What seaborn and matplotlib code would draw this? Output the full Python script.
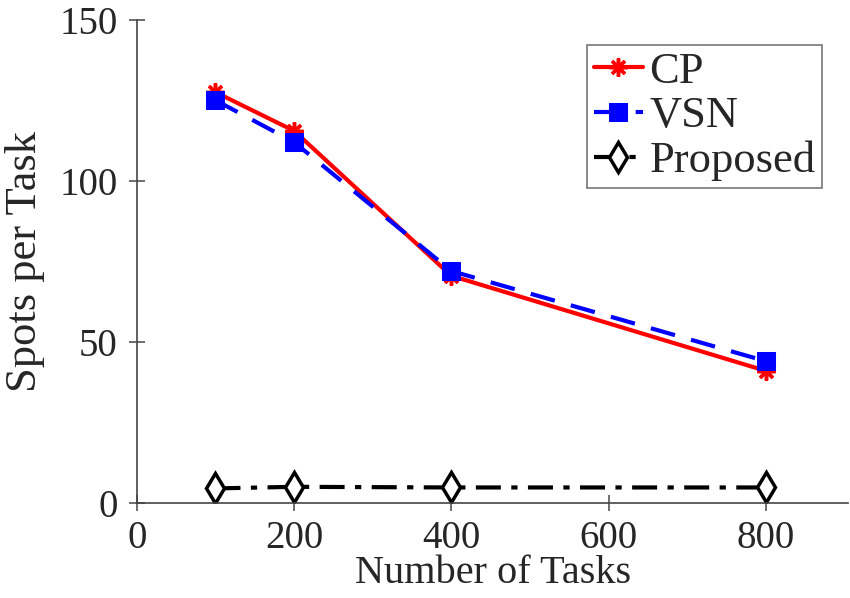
import matplotlib
matplotlib.use("Agg")
import matplotlib.pyplot as plt
import seaborn as sns
import pandas as pd

tasks = [100, 200, 400, 800]
cp = [127.5, 115.5, 70.5, 41]
vsn = [125, 112, 72, 44]
proposed = [4.5, 5, 4.8, 4.8]
xticks = [0, 200, 400, 600, 800]
yticks = [0, 50, 100, 150]

sns.set_theme(style="white")
plt.rcParams['font.family'] = ['Liberation Serif', 'DejaVu Serif']

fig = plt.figure(figsize=(8.5, 5.98), dpi=100)
ax = fig.add_axes([0.161, 0.159, 0.837, 0.808])

sns.lineplot(x=tasks, y=cp, ax=ax, color='#ff0000', lw=3, marker=(8, 2, 0),
             markersize=13, markeredgewidth=2.5, markeredgecolor='#ff0000', label='CP')
sns.lineplot(x=tasks, y=vsn, ax=ax, color='#0000ff', lw=3, marker='s', markersize=13,
             markerfacecolor='#0000ff', markeredgecolor='#0000ff', label='VSN')
ax.lines[-1].set_dashes([6, 4])
sns.lineplot(x=tasks, y=proposed, ax=ax, color='black', lw=3, marker='d', markersize=15,
             markerfacecolor='white', markeredgecolor='black', markeredgewidth=2.5, label='Proposed')
ax.lines[-1].set_dashes([6, 2.5, 1.5, 2.5])

ax.set_xlim(0, 905)
ax.set_ylim(0, 150)
ax.set_xticks(xticks)
ax.set_yticks(yticks)
ax.tick_params(axis='both', direction='inout', length=12, width=1.2, labelsize=28,
               color='#555555', bottom=True, left=True, pad=8)
ax.tick_params(axis='x', pad=6)
for s in ['top', 'right']:
    ax.spines[s].set_visible(False)
for s in ['left', 'bottom']:
    ax.spines[s].set_color('#444444')
    ax.spines[s].set_linewidth(1.2)

ax.set_xlabel('Number of Tasks', fontsize=29, labelpad=-1)
ax.set_ylabel('Spots per Task', fontsize=32, labelpad=10)

leg = ax.legend(loc='upper right', fontsize=32, frameon=True,
                fancybox=False, edgecolor='#555555', handlelength=1.1, handletextpad=0.15,
                borderpad=0.15, labelspacing=0.1, borderaxespad=0)
leg.set_bbox_to_anchor((822 / 850, 1 - 45 / 598), transform=fig.transFigure)
leg.get_frame().set_linewidth(1.2)

fig.savefig('out.png', dpi=100)
